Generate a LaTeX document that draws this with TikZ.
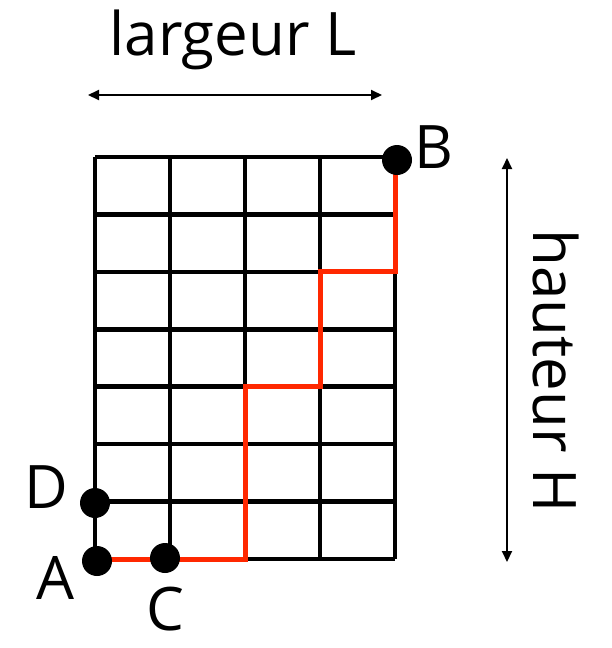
\documentclass[tikz,border=0pt]{standalone}
\usepackage{fontspec}
\setmainfont{Open Sans}
\usetikzlibrary{arrows.meta}
\definecolor{pathred}{RGB}{255,40,0}
\begin{document}
\begin{tikzpicture}[x=1pt,y=-1pt,
  gridline/.style={line width=4.5pt,black},
  redpath/.style={line width=5pt,pathred,line join=miter},
  dot/.style={circle,fill=black,inner sep=0pt,minimum size=30pt},
  lbl/.style={font=\fontsize{60}{66}\selectfont,inner sep=0pt},
  dimarrow/.style={line width=2pt,{Triangle[length=11pt,width=10pt]}-{Triangle[length=11pt,width=10pt]}}]
\useasboundingbox (0,0) rectangle (611,648);
% grid
\foreach \i in {0,...,4} \draw[gridline] (95+75*\i,157) -- (95+75*\i,559);
\foreach \j in {0,...,7} \draw[gridline] (95,157+57.43*\j) -- (395,157+57.43*\j);
% red staircase
\coordinate (p0) at (95,559);
\coordinate (p1) at (245,559);
\coordinate (p2) at (245,386.7);
\coordinate (p3) at (320,386.7);
\coordinate (p4) at (320,271.9);
\coordinate (p5) at (395,271.9);
\coordinate (p6) at (395,160);
\draw[redpath] (p0) -- (p1) -- (p2) -- (p3) -- (p4) -- (p5) -- (p6);
% dots
\node[dot] (A) at (97,561) {};
\node[dot] (D) at (95,503) {};
\node[dot] (C) at (165,558) {};
\node[dot] (B) at (397,160) {};
% labels
\node[lbl] (lA) at (55,578) {A};
\node[lbl] (lD) at (46,487) {D};
\node[lbl,anchor=base] (lC) at (165,630) {C};
\node[lbl] (lB) at (434,147) {B};
\node[lbl] (lL) at (233,40) {largeur L};
\node[lbl,rotate=-90] (lH) at (556,371) {hauteur H};
% dimension arrows
\coordinate (w1) at (88,95);
\coordinate (w2) at (382,95);
\draw[dimarrow] (w1) -- (w2);
\coordinate (h1) at (507,158);
\coordinate (h2) at (507,562);
\draw[dimarrow] (h1) -- (h2);
\end{tikzpicture}
\end{document}
